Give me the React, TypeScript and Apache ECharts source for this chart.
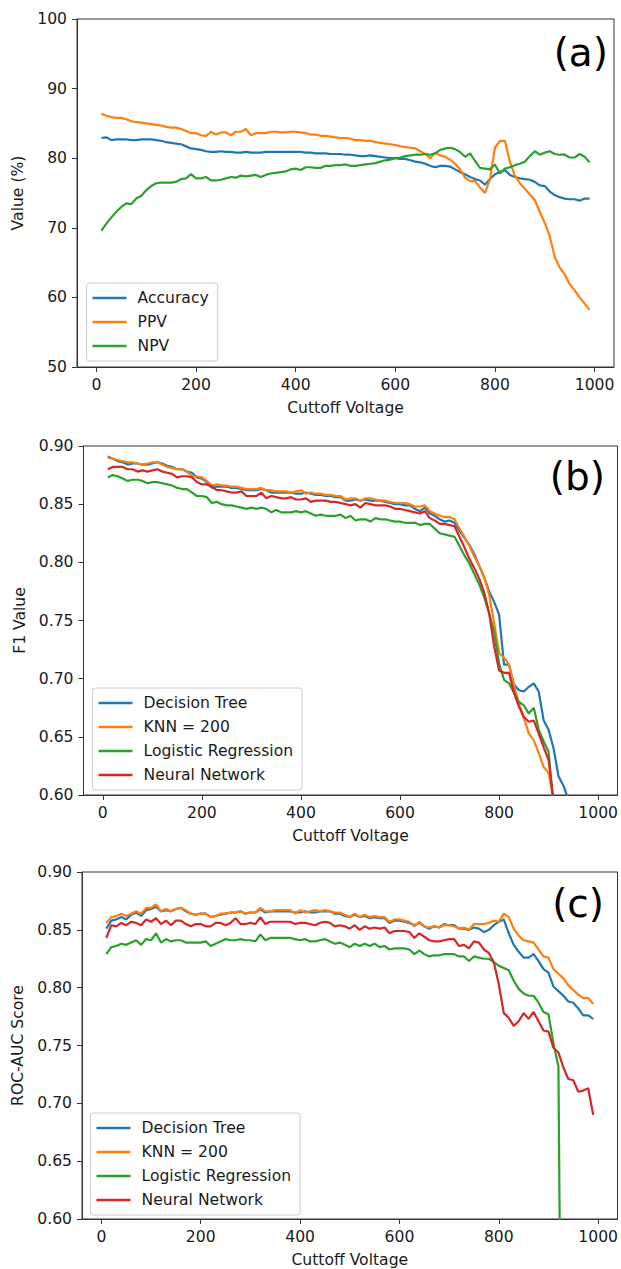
import React, { useEffect, useRef } from "react";
import * as echarts from "echarts";

const CUTOFF = [
  10, 20, 30, 40, 50, 60, 70, 80, 90, 100,
  110, 120, 130, 140, 150, 160, 170, 180, 190, 200,
  210, 220, 230, 240, 250, 260, 270, 280, 290, 300,
  310, 320, 330, 340, 350, 360, 370, 380, 390, 400,
  410, 420, 430, 440, 450, 460, 470, 480, 490, 500,
  510, 520, 530, 540, 550, 560, 570, 580, 590, 600,
  610, 620, 630, 640, 650, 660, 670, 680, 690, 700,
  710, 720, 730, 740, 750, 760, 770, 780, 790, 800,
  810, 820, 830, 840, 850, 860, 870, 880, 890, 900,
  910, 920, 930, 940, 950, 960, 970, 980, 990,
];
const X_TICKS = [0, 200, 400, 600, 800, 1000];

// Panel (a)
const ACCURACY = [
  82.9, 83.0, 82.6, 82.7, 82.7, 82.7, 82.6, 82.6, 82.7, 82.7,
  82.7, 82.6, 82.5, 82.3, 82.2, 82.1, 82.0, 81.7, 81.4, 81.3,
  81.2, 81.0, 80.9, 80.9, 81.0, 80.9, 80.9, 80.8, 80.8, 80.9,
  80.8, 80.8, 80.8, 80.9, 80.9, 80.9, 80.9, 80.9, 80.9, 80.9,
  80.9, 80.8, 80.8, 80.7, 80.7, 80.7, 80.6, 80.6, 80.6, 80.5,
  80.5, 80.4, 80.3, 80.3, 80.4, 80.3, 80.2, 80.1, 80.0, 80.0,
  79.9, 79.9, 79.7, 79.5, 79.4, 79.2, 78.9, 78.7, 78.9, 78.9,
  78.8, 78.4, 78.0, 77.7, 77.3, 77.0, 76.8, 76.2, 77.0, 77.7,
  78.0, 78.3, 77.6, 77.3, 77.1, 77.0, 76.9, 76.6, 76.1, 76.0,
  75.2, 74.7, 74.4, 74.2, 74.1, 74.1, 73.9, 74.2, 74.2,
];
const PPV = [
  86.4, 86.1, 85.9, 85.8, 85.8, 85.6, 85.3, 85.2, 85.1, 85.0,
  84.9, 84.8, 84.7, 84.5, 84.4, 84.4, 84.2, 83.9, 83.6, 83.6,
  83.3, 83.2, 83.8, 83.4, 83.7, 83.7, 83.3, 83.8, 83.8, 84.2,
  83.3, 83.6, 83.6, 83.6, 83.8, 83.8, 83.7, 83.7, 83.8, 83.8,
  83.7, 83.6, 83.4, 83.4, 83.2, 83.2, 83.1, 83.0, 82.9, 82.9,
  82.8, 82.6, 82.6, 82.5, 82.5, 82.3, 82.2, 82.1, 82.0, 81.9,
  81.7, 81.6, 81.5, 81.4, 81.0, 80.6, 80.0, 80.8, 80.4, 80.2,
  79.8, 79.2, 78.4, 77.2, 76.7, 76.7, 75.8, 75.0, 77.0, 81.5,
  82.5, 82.5, 79.5, 77.5, 76.4, 75.6, 74.8, 74.0, 72.3, 70.7,
  68.8, 65.8, 64.3, 63.3, 61.9, 61.0, 60.0, 59.1, 58.2,
];
const NPV = [
  69.6, 70.6, 71.5, 72.3, 73.0, 73.5, 73.4, 74.2, 74.6, 75.4,
  76.0, 76.4, 76.5, 76.5, 76.5, 76.6, 77.0, 77.1, 77.7, 77.1,
  77.1, 77.3, 76.8, 76.8, 76.9, 77.1, 77.3, 77.2, 77.5, 77.4,
  77.5, 77.6, 77.3, 77.6, 77.8, 77.9, 78.0, 78.1, 78.4, 78.5,
  78.3, 78.7, 78.7, 78.6, 78.6, 78.9, 78.9, 79.0, 79.0, 79.1,
  78.9, 78.9, 79.0, 79.1, 79.2, 79.3, 79.5, 79.7, 79.8, 80.0,
  80.1, 80.3, 80.4, 80.5, 80.5, 80.6, 80.5, 80.7, 81.2, 81.4,
  81.5, 81.3, 80.9, 80.2, 80.7, 79.6, 78.6, 78.5, 78.4, 79.1,
  77.8, 78.5, 78.7, 79.0, 79.2, 79.5, 80.3, 81.0, 80.5, 80.8,
  81.0, 80.6, 80.5, 80.5, 80.1, 80.1, 80.6, 80.2, 79.4,
];

// Panel (b) F1
const F1_DT = [
  0.891, 0.889, 0.887, 0.886, 0.884, 0.885, 0.885, 0.884, 0.884, 0.885,
  0.886, 0.885, 0.883, 0.882, 0.880, 0.880, 0.878, 0.877, 0.873, 0.872,
  0.869, 0.864, 0.865, 0.865, 0.865, 0.864, 0.864, 0.863, 0.862, 0.862,
  0.862, 0.863, 0.862, 0.860, 0.860, 0.860, 0.860, 0.860, 0.859, 0.859,
  0.860, 0.859, 0.858, 0.858, 0.857, 0.857, 0.856, 0.856, 0.853, 0.853,
  0.854, 0.853, 0.854, 0.853, 0.853, 0.853, 0.852, 0.851, 0.850, 0.850,
  0.849, 0.849, 0.846, 0.844, 0.847, 0.842, 0.840, 0.837, 0.835, 0.836,
  0.834, 0.827, 0.821, 0.815, 0.807, 0.797, 0.787, 0.775, 0.766, 0.755,
  0.712, 0.712, 0.695, 0.690, 0.689, 0.693, 0.696, 0.689, 0.664, 0.656,
  0.640, 0.616, 0.608, 0.596, 0.580, 0.560, 0.540, 0.520, 0.500,
];
const F1_KNN = [
  0.890, 0.889, 0.888, 0.887, 0.886, 0.886, 0.885, 0.884, 0.885, 0.886,
  0.886, 0.884, 0.882, 0.881, 0.880, 0.880, 0.878, 0.874, 0.874, 0.873,
  0.870, 0.866, 0.867, 0.866, 0.866, 0.865, 0.865, 0.864, 0.863, 0.863,
  0.863, 0.864, 0.862, 0.862, 0.861, 0.861, 0.861, 0.860, 0.861, 0.862,
  0.859, 0.860, 0.859, 0.859, 0.858, 0.858, 0.857, 0.857, 0.854, 0.855,
  0.855, 0.853, 0.855, 0.855, 0.854, 0.853, 0.853, 0.852, 0.851, 0.851,
  0.851, 0.850, 0.848, 0.848, 0.849, 0.844, 0.842, 0.840, 0.839, 0.839,
  0.837, 0.829, 0.822, 0.814, 0.805, 0.797, 0.787, 0.772, 0.748, 0.722,
  0.718, 0.712, 0.694, 0.679, 0.666, 0.653, 0.647, 0.636, 0.624, 0.619,
  0.595, 0.570, 0.550, 0.530, 0.510, 0.490, 0.470, 0.450, 0.430,
];
const F1_LR = [
  0.873, 0.875, 0.874, 0.872, 0.870, 0.871, 0.871, 0.870, 0.868, 0.869,
  0.869, 0.868, 0.867, 0.866, 0.864, 0.863, 0.863, 0.860, 0.857, 0.857,
  0.856, 0.851, 0.852, 0.850, 0.849, 0.849, 0.848, 0.847, 0.846, 0.847,
  0.846, 0.847, 0.846, 0.843, 0.845, 0.843, 0.843, 0.843, 0.844, 0.843,
  0.844, 0.842, 0.840, 0.841, 0.840, 0.840, 0.840, 0.841, 0.838, 0.840,
  0.836, 0.837, 0.837, 0.835, 0.838, 0.837, 0.837, 0.836, 0.835, 0.835,
  0.834, 0.834, 0.834, 0.832, 0.833, 0.833, 0.829, 0.825, 0.824, 0.823,
  0.822, 0.814, 0.806, 0.799, 0.790, 0.781, 0.770, 0.756, 0.740, 0.713,
  0.699, 0.696, 0.688, 0.680, 0.677, 0.670, 0.675, 0.656, 0.646, 0.637,
  0.590, 0.560, 0.540, 0.520, 0.500, 0.480, 0.460, 0.440, 0.420,
];
const F1_NN = [
  0.880, 0.882, 0.882, 0.882, 0.880, 0.880, 0.878, 0.879, 0.878, 0.879,
  0.880, 0.878, 0.877, 0.876, 0.873, 0.874, 0.874, 0.873, 0.869, 0.867,
  0.867, 0.865, 0.862, 0.862, 0.861, 0.860, 0.860, 0.861, 0.857, 0.857,
  0.857, 0.860, 0.855, 0.857, 0.856, 0.855, 0.855, 0.856, 0.854, 0.854,
  0.855, 0.852, 0.853, 0.853, 0.853, 0.852, 0.852, 0.851, 0.850, 0.849,
  0.850, 0.847, 0.851, 0.850, 0.849, 0.849, 0.849, 0.848, 0.846, 0.846,
  0.845, 0.844, 0.843, 0.842, 0.844, 0.838, 0.836, 0.833, 0.833, 0.832,
  0.831, 0.822, 0.813, 0.803, 0.795, 0.786, 0.774, 0.756, 0.728, 0.707,
  0.705, 0.705, 0.688, 0.676, 0.667, 0.663, 0.664, 0.653, 0.641, 0.630,
  0.595, 0.570, 0.550, 0.530, 0.510, 0.490, 0.470, 0.450, 0.430,
];

// Panel (c) ROC-AUC
const AUC_DT = [
  0.851, 0.858, 0.859, 0.861, 0.859, 0.863, 0.865, 0.862, 0.867, 0.868,
  0.870, 0.866, 0.867, 0.866, 0.868, 0.869, 0.866, 0.864, 0.863, 0.864,
  0.864, 0.861, 0.862, 0.863, 0.864, 0.865, 0.865, 0.866, 0.864, 0.865,
  0.865, 0.868, 0.865, 0.866, 0.866, 0.866, 0.866, 0.866, 0.865, 0.865,
  0.866, 0.865, 0.865, 0.866, 0.866, 0.866, 0.864, 0.864, 0.862, 0.861,
  0.863, 0.861, 0.862, 0.860, 0.861, 0.860, 0.860, 0.856, 0.858, 0.858,
  0.857, 0.856, 0.854, 0.856, 0.853, 0.851, 0.853, 0.852, 0.855, 0.854,
  0.854, 0.851, 0.851, 0.850, 0.852, 0.851, 0.848, 0.850, 0.854, 0.857,
  0.859, 0.847, 0.837, 0.831, 0.826, 0.826, 0.829, 0.823, 0.816, 0.813,
  0.801, 0.797, 0.793, 0.788, 0.787, 0.782, 0.776, 0.776, 0.773,
];
const AUC_KNN = [
  0.856, 0.861, 0.862, 0.864, 0.862, 0.864, 0.866, 0.864, 0.869, 0.869,
  0.872, 0.866, 0.868, 0.866, 0.868, 0.869, 0.867, 0.864, 0.863, 0.864,
  0.864, 0.861, 0.862, 0.864, 0.864, 0.865, 0.865, 0.866, 0.864, 0.865,
  0.865, 0.869, 0.866, 0.866, 0.867, 0.867, 0.867, 0.867, 0.864, 0.867,
  0.865, 0.866, 0.867, 0.866, 0.867, 0.866, 0.865, 0.865, 0.863, 0.861,
  0.864, 0.861, 0.863, 0.861, 0.862, 0.861, 0.861, 0.857, 0.859, 0.859,
  0.858, 0.857, 0.853, 0.857, 0.853, 0.852, 0.853, 0.852, 0.854, 0.854,
  0.853, 0.851, 0.852, 0.850, 0.855, 0.855, 0.855, 0.856, 0.858, 0.857,
  0.864, 0.861, 0.851, 0.845, 0.841, 0.840, 0.839, 0.833, 0.827, 0.826,
  0.816, 0.812, 0.808, 0.802, 0.798, 0.794, 0.791, 0.791, 0.786,
];
const AUC_LR = [
  0.829, 0.835, 0.836, 0.838, 0.837, 0.839, 0.841, 0.837, 0.842, 0.841,
  0.847, 0.839, 0.842, 0.840, 0.841, 0.841, 0.839, 0.839, 0.839, 0.839,
  0.840, 0.836, 0.838, 0.840, 0.842, 0.841, 0.841, 0.842, 0.841, 0.841,
  0.840, 0.846, 0.841, 0.843, 0.843, 0.843, 0.843, 0.843, 0.842, 0.841,
  0.842, 0.840, 0.840, 0.841, 0.842, 0.840, 0.838, 0.839, 0.837, 0.835,
  0.838, 0.836, 0.838, 0.836, 0.838, 0.835, 0.836, 0.833, 0.834, 0.834,
  0.834, 0.833, 0.829, 0.832, 0.829, 0.827, 0.828, 0.828, 0.829, 0.829,
  0.829, 0.827, 0.827, 0.823, 0.827, 0.826, 0.825, 0.825, 0.822, 0.819,
  0.817, 0.815, 0.806, 0.799, 0.795, 0.793, 0.793, 0.787, 0.779, 0.777,
  0.752, 0.732, 0.200, 0.200, 0.200, 0.200, 0.200, 0.200, 0.200,
];
const AUC_NN = [
  0.843, 0.854, 0.853, 0.856, 0.854, 0.857, 0.856, 0.854, 0.859, 0.857,
  0.860, 0.855, 0.858, 0.854, 0.858, 0.858, 0.855, 0.853, 0.855, 0.855,
  0.853, 0.853, 0.856, 0.856, 0.854, 0.856, 0.860, 0.855, 0.855, 0.856,
  0.855, 0.861, 0.855, 0.857, 0.857, 0.857, 0.857, 0.857, 0.855, 0.856,
  0.856, 0.855, 0.854, 0.856, 0.857, 0.856, 0.853, 0.854, 0.853, 0.851,
  0.854, 0.850, 0.853, 0.851, 0.852, 0.851, 0.852, 0.847, 0.849, 0.849,
  0.849, 0.848, 0.843, 0.847, 0.844, 0.841, 0.840, 0.840, 0.841, 0.842,
  0.842, 0.836, 0.837, 0.834, 0.840, 0.839, 0.833, 0.830, 0.822, 0.803,
  0.778, 0.774, 0.767, 0.771, 0.778, 0.773, 0.779, 0.771, 0.763, 0.762,
  0.748, 0.744, 0.731, 0.721, 0.720, 0.710, 0.711, 0.713, 0.690,
];

const PANEL_A_NAMES = ["Accuracy", "PPV", "NPV"];
const MODEL_NAMES = ["Decision Tree", "KNN = 200", "Logistic Regression", "Neural Network"];
const COLORS = ["#1f77b4", "#ff7f0e", "#2ca02c", "#d62728"];

const FONT = "DejaVu Sans";
const FS = 15.6;
const INK = "#1a1a1a";
const SPINE = "#333333";

function xAxisFor(gridIndex: number, nameGap: number) {
  return {
    type: "value",
    gridIndex,
    min: -39,
    max: 1039,
    name: "Cuttoff Voltage",
    nameLocation: "middle",
    nameGap,
    nameTextStyle: { fontFamily: FONT, fontSize: FS, color: INK },
    axisLine: { show: true, onZero: false, lineStyle: { color: SPINE, width: 1 } },
    axisTick: { show: true, inside: false, length: 5, customValues: X_TICKS, lineStyle: { color: SPINE, width: 1 } },
    axisLabel: {
      show: true,
      margin: 10,
      customValues: X_TICKS,
      fontFamily: FONT,
      fontSize: FS,
      color: INK,
      formatter: (v: number) => String(v),
    },
    splitLine: { show: false },
  };
}

function yAxisFor(gridIndex: number, name: string, min: number, max: number, interval: number, digits: number, nameGap: number) {
  return {
    type: "value",
    gridIndex,
    min,
    max,
    interval,
    name,
    nameLocation: "middle",
    nameGap,
    nameTextStyle: { fontFamily: FONT, fontSize: FS, color: INK },
    axisLine: { show: true, onZero: false, lineStyle: { color: SPINE, width: 1 } },
    axisTick: { show: true, inside: false, length: 5, lineStyle: { color: SPINE, width: 1 } },
    axisLabel: {
      margin: 10,
      fontFamily: FONT,
      fontSize: FS,
      color: INK,
      formatter: (v: number) => v.toFixed(digits),
    },
    splitLine: { show: false },
  };
}

function lineSeries(name: string, values: number[], color: string, axisIndex: number) {
  return {
    type: "line",
    name,
    xAxisIndex: axisIndex,
    yAxisIndex: axisIndex,
    data: CUTOFF.map((x, i) => [x, values[i]]),
    showSymbol: false,
    symbol: "none",
    clip: true,
    lineStyle: { color, width: 2.2 },
    itemStyle: { color },
    z: 3,
  };
}

function legendFor(names: string[], left: number, top: number, itemGap: number) {
  return {
    data: names,
    orient: "vertical",
    left,
    top,
    icon: "rect",
    itemWidth: 34,
    itemHeight: 2.5,
    itemGap,
    padding: [7, 9, 7, 6],
    backgroundColor: "rgba(255,255,255,0.85)",
    borderColor: "#cccccc",
    borderWidth: 1,
    borderRadius: 3,
    textStyle: { fontFamily: FONT, fontSize: FS, color: INK, padding: [0, 0, 0, 6] },
    selectedMode: false,
  };
}

function panelLabel(text: string, x: number, y: number) {
  return {
    type: "text",
    x,
    y,
    z: 10,
    style: {
      text,
      fontFamily: FONT,
      fontSize: 39,
      fill: "#000",
      align: "right",
      verticalAlign: "middle",
      textAlign: "right",
      textVerticalAlign: "middle",
    },
  };
}

export default function App() {
  const ref = useRef<HTMLDivElement>(null);

  useEffect(() => {
    if (!ref.current) return;
    const chart = echarts.init(ref.current, undefined, { renderer: "svg" });
    const gridStyle = { show: true, borderColor: SPINE, borderWidth: 1, backgroundColor: "transparent", containLabel: false };
    chart.setOption({
      animation: false,
      backgroundColor: "#ffffff",
      grid: [
        { ...gridStyle, left: 77, top: 19, width: 537, height: 348 },
        { ...gridStyle, left: 83.5, top: 446, width: 537, height: 349 },
        { ...gridStyle, left: 82, top: 872, width: 538, height: 348.5 },
      ],
      xAxis: [xAxisFor(0, 33), xAxisFor(1, 33), xAxisFor(2, 33)],
      yAxis: [
        yAxisFor(0, "Value (%)", 50, 100, 10, 0, 46),
        yAxisFor(1, "F1 Value", 0.6, 0.9, 0.05, 2, 52),
        yAxisFor(2, "ROC-AUC Score", 0.6, 0.9, 0.05, 2, 52),
      ],
      legend: [
        legendFor(PANEL_A_NAMES, 86.5, 283, 8),
        legendFor(MODEL_NAMES, 92.5, 688, 8),
        legendFor(MODEL_NAMES, 90.5, 1113, 8),
      ],
      series: [
        lineSeries("Accuracy", ACCURACY, COLORS[0], 0),
        lineSeries("PPV", PPV, COLORS[1], 0),
        lineSeries("NPV", NPV, COLORS[2], 0),
        lineSeries(MODEL_NAMES[0], F1_DT, COLORS[0], 1),
        lineSeries(MODEL_NAMES[1], F1_KNN, COLORS[1], 1),
        lineSeries(MODEL_NAMES[2], F1_LR, COLORS[2], 1),
        lineSeries(MODEL_NAMES[3], F1_NN, COLORS[3], 1),
        lineSeries(MODEL_NAMES[0], AUC_DT, COLORS[0], 2),
        lineSeries(MODEL_NAMES[1], AUC_KNN, COLORS[1], 2),
        lineSeries(MODEL_NAMES[2], AUC_LR, COLORS[2], 2),
        lineSeries(MODEL_NAMES[3], AUC_NN, COLORS[3], 2),
      ],
      graphic: [
        panelLabel("(a)", 608, 52),
        panelLabel("(b)", 605, 476),
        panelLabel("(c)", 604, 903),
      ],
    });
    return () => chart.dispose();
  }, []);

  return (
    <div
      ref={ref}
      style={{ position: "absolute", left: 0, top: 0, width: 621, height: 1269, background: "#fff" }}
    />
  );
}
